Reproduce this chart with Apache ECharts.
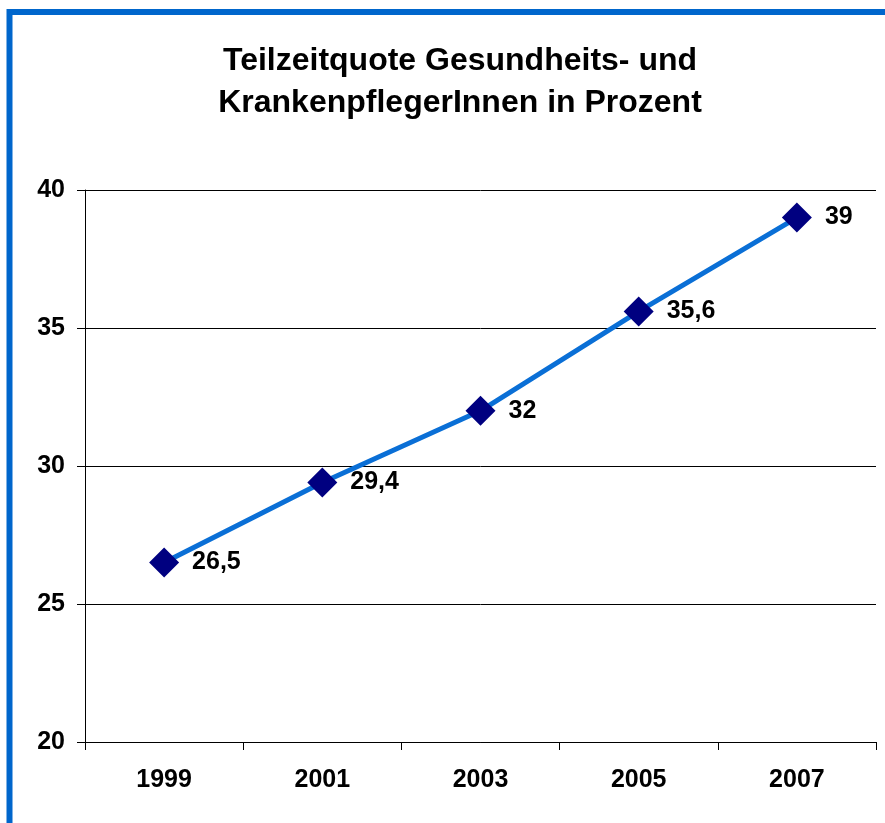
<!DOCTYPE html>
<html>
<head>
<meta charset="utf-8">
<script src="https://cdn.jsdelivr.net/npm/echarts@6/dist/echarts.min.js"></script>
<style>
html,body{margin:0;padding:0;background:#fff;}
#c{width:885px;height:823px;}
</style>
</head>
<body>
<div id="c"></div>
<script>
const categories = ['1999', '2001', '2003', '2005', '2007'];
const values = [26.5, 29.4, 32, 35.6, 39];
const valueLabels = ['26,5', '29,4', '32', '35,6', '39'];
const titleText = 'Teilzeitquote Gesundheits- und\nKrankenpflegerInnen in Prozent';

const FONT = '"Liberation Sans", Arial, sans-serif';
const chart = echarts.init(document.getElementById('c'), null, {renderer: 'canvas'});
chart.setOption({
  backgroundColor: '#ffffff',
  animation: false,
  title: {
    text: titleText,
    left: 455,
    textAlign: 'center',
    top: 35,
    textStyle: {fontFamily: FONT, fontWeight: 'bold', fontSize: 32, color: '#000', lineHeight: 42}
  },
  graphic: [{
    type: 'rect',
    shape: {x: 9.5, y: 12, width: 1000, height: 1000},
    style: {fill: 'none', stroke: '#0066cc', lineWidth: 6},
    silent: true
  }],
  grid: {left: 85, right: 9, top: 190, bottom: 81, containLabel: false},
  xAxis: {
    type: 'category',
    data: categories,
    boundaryGap: true,
    axisLine: {lineStyle: {color: '#000', width: 1}},
    axisTick: {show: true, length: 8, lineStyle: {color: '#000'}},
    axisLabel: {fontFamily: FONT, fontWeight: 'bold', fontSize: 25, color: '#000', margin: 26}
  },
  yAxis: {
    type: 'value',
    min: 20, max: 40, interval: 5,
    axisLine: {show: true, lineStyle: {color: '#000', width: 1}},
    axisTick: {show: true, length: 8, lineStyle: {color: '#000'}},
    splitLine: {show: true, lineStyle: {color: '#000', width: 1}},
    axisLabel: {fontFamily: FONT, fontWeight: 'bold', fontSize: 25, color: '#000', margin: 20}
  },
  series: [{
    type: 'line',
    data: values,
    symbol: 'diamond',
    symbolSize: 30,
    lineStyle: {color: '#0a6fd6', width: 5},
    itemStyle: {color: '#000080', borderWidth: 0},
    label: {
      show: true,
      position: 'right',
      distance: 13,
      formatter: p => valueLabels[p.dataIndex],
      fontFamily: FONT, fontWeight: 'bold', fontSize: 25, color: '#000'
    },
    z: 5
  }]
});
</script>
</body>
</html>
